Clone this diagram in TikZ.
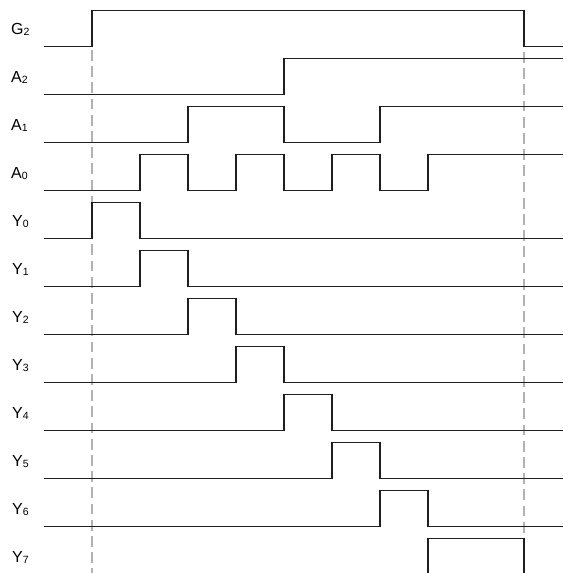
\documentclass[tikz,border=0pt]{standalone}
\usepackage{fontspec}
\setmainfont{Liberation Sans}
\newcommand\sigsub[2]{#1\raisebox{-1.8pt}{\fontsize{10.5}{10.5}\selectfont #2}}
\tikzset{
  wave/.style={line width=1.8pt, black!88, line join=miter},
  guide/.style={line width=1.8pt, black!30, dash pattern=on 10.7pt off 5.5pt},
  siglabel/.style={anchor=base west, inner sep=0pt, font=\fontsize{16}{16}\selectfont},
}
\begin{document}
\begin{tikzpicture}[x=1pt, y=-1pt]
\useasboundingbox (0,0) rectangle (563,573);
\clip (0,0) rectangle (563,573);
% guides
\coordinate (g1top) at (92,50);
\coordinate (g1bot) at (92,573);
\coordinate (g2top) at (524,52);
\coordinate (g2bot) at (524,573);
\draw[guide] (g1top) -- (g1bot);
\draw[guide] (g2top) -- (g2bot);
% labels
\node[siglabel] (lG2) at (11,34) {\sigsub{G}{2}};
\node[siglabel] (lA2) at (11,34+48) {\sigsub{A}{2}};
\node[siglabel] (lA1) at (11,34+96) {\sigsub{A}{1}};
\node[siglabel] (lA0) at (11,34+144) {\sigsub{A}{0}};
\node[siglabel] (lY0) at (12,34+192) {\sigsub{Y}{0}};
\node[siglabel] (lY1) at (12,34+240) {\sigsub{Y}{1}};
\node[siglabel] (lY2) at (12,34+288) {\sigsub{Y}{2}};
\node[siglabel] (lY3) at (12,34+336) {\sigsub{Y}{3}};
\node[siglabel] (lY4) at (12,34+384) {\sigsub{Y}{4}};
\node[siglabel] (lY5) at (12,34+432) {\sigsub{Y}{5}};
\node[siglabel] (lY6) at (12,34+480) {\sigsub{Y}{6}};
\node[siglabel] (lY7) at (12,34+528) {\sigsub{Y}{7}};
% waveforms (row 0: low 46.5, high 10.5)
\draw[wave] (43.5,46.5) -| (92,10.5) -| (524,46.5) -- (563,46.5);
\begin{scope}[yshift=-48pt]
\draw[wave] (43.5,46.5) -| (284,10.5) -- (563,10.5);
\end{scope}
\begin{scope}[yshift=-96pt]
\draw[wave] (43.5,46.5) -| (188,10.5) -| (284,46.5) -| (380,10.5) -- (563,10.5);
\end{scope}
\begin{scope}[yshift=-144pt]
\draw[wave] (43.5,46.5) -| (140,10.5) -| (188,46.5) -| (236,10.5) -| (284,46.5) -| (332,10.5) -| (380,46.5) -| (428,10.5) -- (563,10.5);
\end{scope}
\foreach \i/\a/\b in {0/92/140, 1/140/188, 2/188/236, 3/236/284, 4/284/332, 5/332/380, 6/380/428, 7/428/524}{
  \begin{scope}[yshift=-192pt-\i*48pt]
  \draw[wave] (43.5,46.5) -| (\a,10.5) -| (\b,46.5) -- (563,46.5);
  \end{scope}
}
\end{tikzpicture}
\end{document}
